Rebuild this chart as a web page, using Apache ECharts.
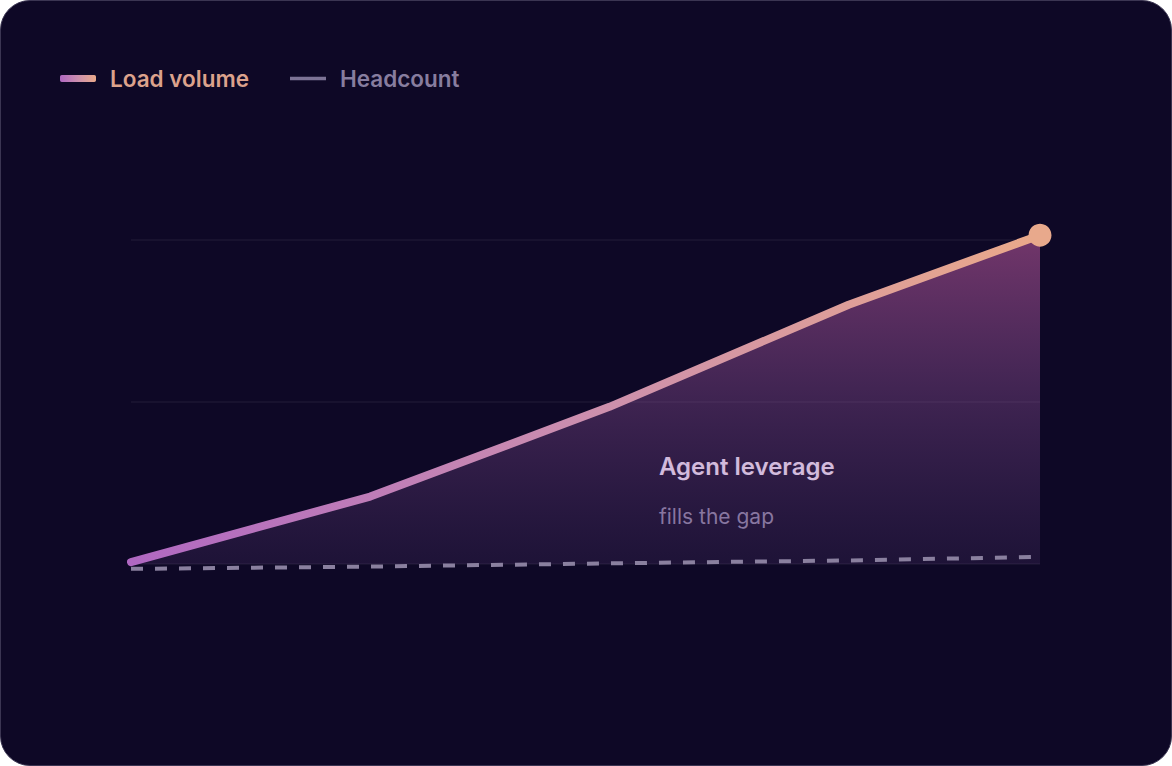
<!DOCTYPE html>
<html>
<head>
<meta charset="utf-8">
<script src="https://cdn.jsdelivr.net/npm/echarts@6/dist/echarts.min.js"></script>
<style>
  html, body { margin: 0; padding: 0; background: #ffffff; }
  #card {
    position: absolute; left: 0; top: 0;
    width: 1170px; height: 764px;
    background: #0e0826;
    border: 1px solid #3b3552;
    border-radius: 30px;
    overflow: hidden;
  }
  #chart { width: 1170px; height: 764px; }
</style>
</head>
<body>
<div id="card"><div id="chart"></div></div>
<script>
// x positions (periods) and values
var periods = [0, 1, 2, 3, 3.8];
var loadVolume = [0.6, 20.8, 48.5, 80, 101.5];
var headcount = [-1.5, -0.8, 0.2, 1.1, 2.2];
var yTicks = [0, 50, 100];

var FONT = 'Inter, "Noto Sans", sans-serif';

function pairs(xs, ys) {
  var out = [];
  for (var i = 0; i < xs.length; i++) out.push([xs[i], ys[i]]);
  return out;
}

var chart = echarts.init(document.getElementById('chart'), null, { renderer: 'svg' });

var lineGrad = new echarts.graphic.LinearGradient(0, 0, 1, 0, [
  { offset: 0, color: '#b068c2' },
  { offset: 0.5, color: '#cc8fae' },
  { offset: 1, color: '#eaa98a' }
]);

var option = {
  backgroundColor: 'transparent',
  animation: false,
  grid: { left: 130, right: 131, top: 239, bottom: 201 },
  legend: {
    left: 59,
    top: 66,
    padding: 0,
    itemWidth: 36,
    itemHeight: 7,
    itemGap: 41,
    textStyle: { fontFamily: FONT, fontSize: 22.5, fontWeight: 600, padding: [0, 0, 0, 9] },
    data: [
      { name: 'Load volume', icon: 'roundRect', textStyle: { color: '#dca28c' } },
      { name: 'Headcount', icon: 'path://M0,1.7 L36,1.7 L36,5.3 L0,5.3 Z M0,0 L0.01,0 L0.01,7 L0,7 Z', textStyle: { color: '#877d9f' } }
    ]
  },
  xAxis: {
    type: 'value',
    min: periods[0],
    max: periods[periods.length - 1],
    show: false
  },
  yAxis: {
    type: 'value',
    min: yTicks[0],
    max: yTicks[yTicks.length - 1],
    interval: yTicks[1] - yTicks[0],
    axisLabel: { show: false },
    axisTick: { show: false },
    axisLine: { show: false },
    splitLine: { lineStyle: { color: 'rgba(255,255,255,0.06)', width: 1.5 } }
  },
  series: [
    {
      name: 'Load volume',
      type: 'line',
      data: pairs(periods, loadVolume),
      symbol: 'none',
      clip: false,
      z: 3,
      itemStyle: { color: lineGrad },
      lineStyle: { color: lineGrad, width: 8, cap: 'round', join: 'round' },
      areaStyle: {
        origin: 'start',
        opacity: 1,
        color: new echarts.graphic.LinearGradient(0, 0, 0, 1, [
          { offset: 0, color: 'rgba(176,82,148,0.62)' },
          { offset: 0.5, color: 'rgba(150,85,158,0.36)' },
          { offset: 1, color: 'rgba(114,75,145,0.16)' }
        ])
      }
    },
    {
      name: 'Headcount',
      type: 'line',
      data: pairs(periods, headcount),
      symbol: 'none',
      clip: false,
      z: 4,
      itemStyle: { color: '#7d7396' },
      lineStyle: { color: '#8a809f', width: 4, type: [12, 12] }
    },
    {
      name: 'Load volume',
      type: 'scatter',
      data: [[periods[periods.length - 1], loadVolume[loadVolume.length - 1]]],
      symbol: 'circle',
      symbolSize: 23,
      clip: false,
      z: 5,
      itemStyle: { color: '#e8a98c', opacity: 1 }
    }
  ],
  graphic: [
    {
      type: 'text',
      left: 658,
      top: 453,
      style: { text: 'Agent leverage', fill: '#efe3f6', font: '600 24px ' + FONT }
    },
    {
      type: 'text',
      left: 658,
      top: 505,
      style: { text: 'fills the gap', fill: '#8b81a3', font: '400 21px ' + FONT }
    }
  ]
};

chart.setOption(option);
</script>
</body>
</html>
